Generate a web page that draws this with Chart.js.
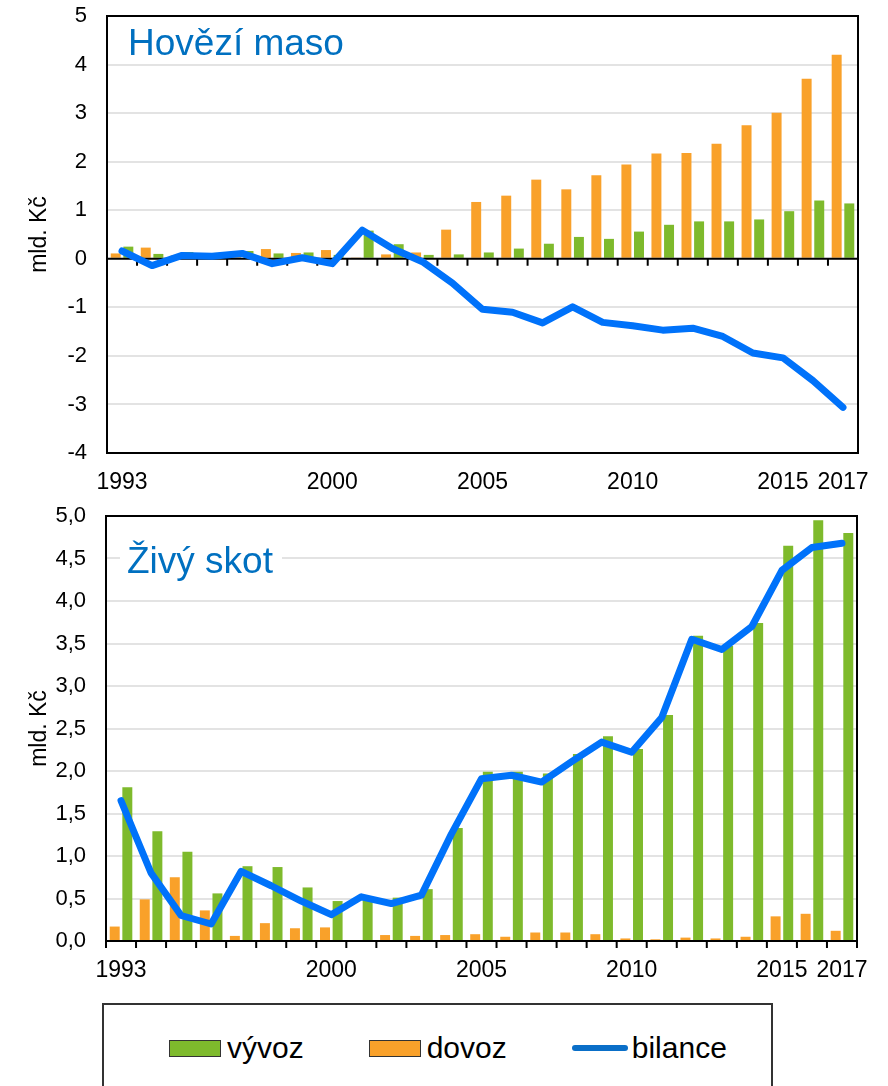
<!DOCTYPE html>
<html>
<head>
<meta charset="utf-8">
<script src="https://cdn.jsdelivr.net/npm/chart.js@4.4.1/dist/chart.umd.min.js"></script>
<style>
  body { margin: 0; background: #fff; width: 888px; height: 1086px; overflow: hidden; position: relative; font-family: 'Liberation Sans', Arial, sans-serif; }
  canvas { position: absolute; left: 0; }
  #graf1 { top: 0; }
  #graf2 { top: 500px; }
  .nadpis { position: absolute; color: #0070C0; font-size: 37px; line-height: 37px; white-space: nowrap; }
  #nadpis1 { left: 128px; top: 24px; }
  #nadpis2 { left: 120px; top: 542px; padding: 0 9px 0 7px; background: #fff; }
  #legenda { position: absolute; left: 102px; top: 1003px; width: 671px; height: 100px; border: 2px solid #333; box-sizing: border-box; }
  #polozky { position: absolute; left: 65px; top: 28px; height: 30px; display: flex; align-items: center; gap: 65px; }
  .polozka { display: flex; align-items: center; font-size: 30px; color: #000; }
  .znacka { margin-right: 6px; }
</style>
</head>
<body>
<canvas id="graf1" width="888" height="500"></canvas>
<canvas id="graf2" width="888" height="500"></canvas>
<div class="nadpis" id="nadpis1">Hovězí maso</div>
<div class="nadpis" id="nadpis2">Živý skot</div>
<div id="legenda"><div id="polozky"></div></div>

<script>
'use strict';

// DATA
let years = ['1993', '1994', '1995', '1996', '1997', '1998', '1999', '2000', '2001', '2002', '2003', '2004', '2005',
  '2006', '2007', '2008', '2009', '2010', '2011', '2012', '2013', '2014', '2015', '2016', '2017'];
let shownYears = ['1993', '2000', '2005', '2010', '2015', '2017'];

let masoVyvoz = [0.25, 0.10, 0.14, 0.12, 0.16, 0.11, 0.13, 0.08, 0.58, 0.30, 0.08, 0.09, 0.13,
  0.21, 0.31, 0.45, 0.41, 0.56, 0.70, 0.77, 0.77, 0.81, 0.98, 1.20, 1.14];
let masoDovoz = [0.11, 0.23, 0.07, 0.07, 0.05, 0.20, 0.12, 0.18, 0.01, 0.09, 0.13, 0.60, 1.17,
  1.30, 1.63, 1.43, 1.72, 1.94, 2.17, 2.18, 2.37, 2.75, 3.01, 3.71, 4.20];
let masoBilance = [0.16, -0.14, 0.07, 0.05, 0.11, -0.10, 0.02, -0.10, 0.59, 0.21, -0.06, -0.50, -1.04,
  -1.10, -1.32, -0.99, -1.31, -1.38, -1.47, -1.43, -1.60, -1.94, -2.04, -2.51, -3.06];

let skotVyvoz = [1.81, 1.29, 1.05, 0.56, 0.88, 0.87, 0.63, 0.47, 0.52, 0.51, 0.61, 1.33, 1.99,
  1.99, 1.97, 2.20, 2.41, 2.26, 2.66, 3.59, 3.47, 3.74, 4.65, 4.95, 4.80];
let skotDovoz = [0.17, 0.49, 0.75, 0.36, 0.06, 0.21, 0.15, 0.16, 0.01, 0.07, 0.06, 0.07, 0.08,
  0.05, 0.10, 0.10, 0.08, 0.03, 0.02, 0.04, 0.03, 0.05, 0.29, 0.32, 0.12];
let skotBilance = [1.65, 0.80, 0.30, 0.20, 0.82, 0.65, 0.47, 0.31, 0.52, 0.44, 0.54, 1.26, 1.91,
  1.95, 1.87, 2.11, 2.34, 2.22, 2.63, 3.55, 3.43, 3.70, 4.36, 4.63, 4.68];

let seriesNames = ['vývoz', 'dovoz', 'bilance'];
let yTitle = 'mld. Kč';

// STYLES
let green = '#7EBA2C';
let orange = '#F9A12A';
let blue = '#0072FA';
let fontFam = "'Liberation Sans', Arial, sans-serif";

// frame, zero line and tick marks, drawn just before the line so the line stays on top
const frame = {
  id: 'frame',
  beforeDatasetDraw(chart, args) {
    if (args.meta.type !== 'line') return;
    const ctx = chart.ctx;
    const a = chart.chartArea;
    const xs = chart.scales.x;
    const y0 = chart.scales.y.getPixelForValue(0);
    const n = chart.data.labels.length;
    ctx.save();
    ctx.strokeStyle = '#000';
    ctx.lineWidth = 2;
    ctx.strokeRect(a.left, a.top, a.right - a.left, a.bottom - a.top);
    ctx.beginPath();
    ctx.moveTo(a.left, y0);
    ctx.lineTo(a.right, y0);
    for (let i = 0; i <= n; i++) {
      let px;
      if (i === 0) px = a.left;
      else if (i === n) px = a.right;
      else px = (xs.getPixelForValue(i - 1) + xs.getPixelForValue(i)) / 2;
      ctx.moveTo(px, y0);
      ctx.lineTo(px, y0 + 7);
    }
    ctx.stroke();
    ctx.restore();
  }
};

function makeChart(id, vyvoz, dovoz, bilance, opts) {
  return new Chart(document.getElementById(id), {
    type: 'bar',
    data: {
      labels: years,
      datasets: [
        { label: seriesNames[1], data: dovoz, backgroundColor: orange, order: 1,
          categoryPercentage: 0.84, barPercentage: 0.79 },
        { label: seriesNames[0], data: vyvoz, backgroundColor: green, order: 1,
          categoryPercentage: 0.84, barPercentage: 0.79 },
        { type: 'line', label: seriesNames[2], data: bilance, borderColor: blue, borderWidth: 7,
          pointRadius: 0, tension: 0, borderCapStyle: 'round', borderJoinStyle: 'round', order: 0 }
      ]
    },
    options: {
      responsive: false,
      animation: false,
      events: [],
      layout: { padding: { top: 16, right: opts.right, left: 0, bottom: 0 } },
      plugins: { legend: { display: false }, tooltip: { enabled: false } },
      scales: {
        x: {
          grid: { display: false },
          border: { display: false },
          ticks: {
            autoSkip: false, maxRotation: 0, padding: 8, color: '#000',
            font: { family: fontFam, size: 23 },
            callback: function(v) {
              let l = this.getLabelForValue(v);
              return shownYears.includes(l) ? l : '';
            }
          },
          afterFit: s => { s.height = opts.xHeight; }
        },
        y: {
          min: opts.min, max: opts.max,
          grid: {
            drawTicks: true, tickLength: 20, tickColor: 'rgba(0,0,0,0)', lineWidth: 2,
            color: c => c.tick.value === 0 ? 'rgba(0,0,0,0)' : '#E3E3E3'
          },
          border: { display: false },
          ticks: {
            stepSize: opts.step, padding: 0, color: '#000',
            font: { family: fontFam, size: 22 },
            callback: opts.fmt
          },
          title: {
            display: true, text: yTitle, color: '#000',
            font: { family: fontFam, size: 23 },
            padding: { top: 26, bottom: 0 }
          },
          afterFit: s => { s.width = opts.yWidth; }
        }
      }
    },
    plugins: [frame]
  });
}

makeChart('graf1', masoVyvoz, masoDovoz, masoBilance, {
  min: -4, max: 5, step: 1, fmt: v => String(v),
  right: 30, yWidth: 107, xHeight: 47
});

makeChart('graf2', skotVyvoz, skotDovoz, skotBilance, {
  min: 0, max: 5, step: 0.5, fmt: v => v.toFixed(1).replace('.', ','),
  right: 31, yWidth: 106, xHeight: 59
});

// LEGEND
let legendColors = [green, orange, '#0A6FC8'];
let polozky = document.getElementById('polozky');
for (let i = 0; i < seriesNames.length; i++) {
  let item = document.createElement('div');
  item.className = 'polozka';
  let mark = document.createElement('span');
  mark.className = 'znacka';
  if (i < 2) {
    mark.style.cssText = `display:inline-block;width:50px;height:15px;background:${legendColors[i]};border:1px solid #333;`;
  } else {
    mark.style.cssText = `display:inline-block;width:56px;height:6px;border-radius:3px;background:${legendColors[i]};margin-right:4px;`;
  }
  item.appendChild(mark);
  let txt = document.createElement('span');
  txt.textContent = seriesNames[i];
  item.appendChild(txt);
  polozky.appendChild(item);
}
</script>
</body>
</html>
